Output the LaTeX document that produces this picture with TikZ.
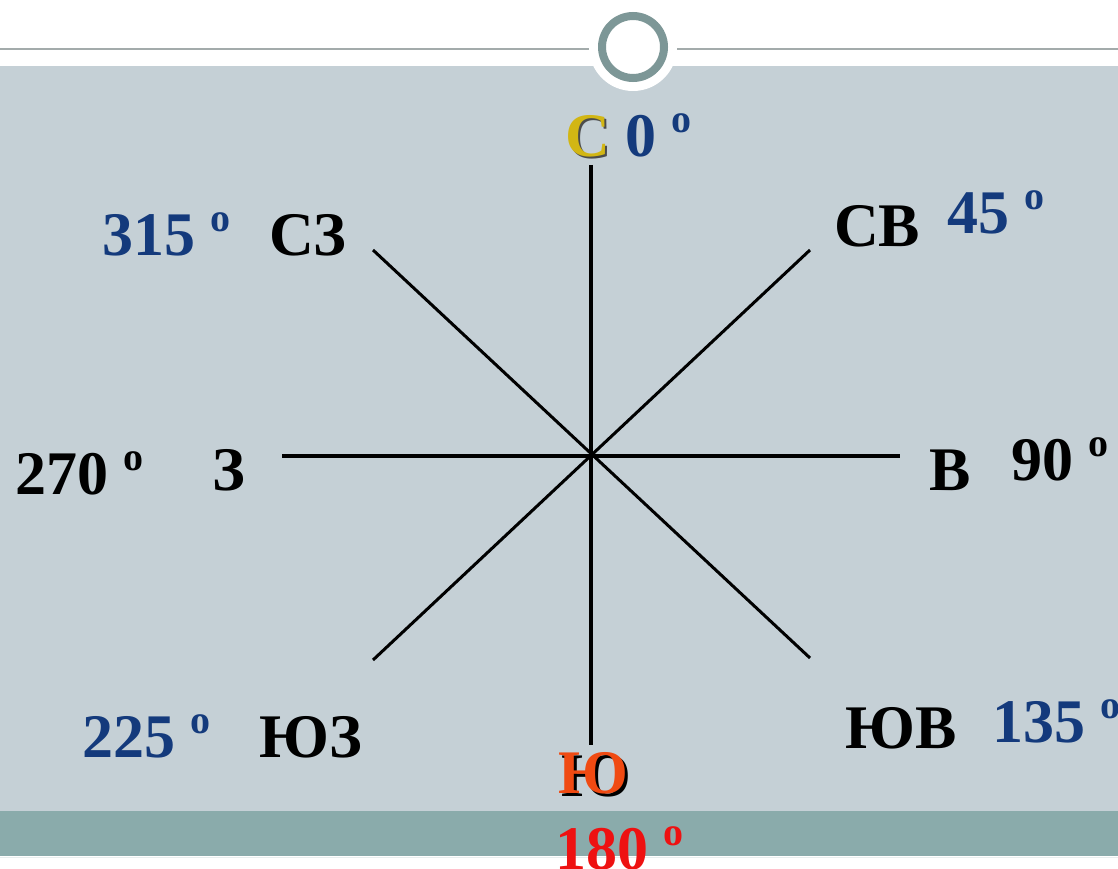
\documentclass[tikz,border=0pt]{standalone}
\usepackage{fontspec}
\setmainfont{Liberation Serif}
\definecolor{panel}{HTML}{C5D0D6}
\definecolor{band}{HTML}{8AABAB}
\definecolor{topline}{HTML}{A3ABAB}
\definecolor{ring}{HTML}{7D9797}
\definecolor{navy}{HTML}{143A7C}
\definecolor{gold}{HTML}{D2B614}
\definecolor{orangered}{HTML}{F04A12}
\definecolor{brightred}{HTML}{EE1111}
\newcommand\dg{\raisebox{24pt}{\fontsize{40}{40}\selectfont o}}
\begin{document}
\begin{tikzpicture}[x=1pt,y=-1pt,
  lbl/.style={inner sep=0pt,anchor=base west,font=\fontsize{62}{62}\selectfont\bfseries},
  axis/.style={line width=4pt,black}]
\useasboundingbox (0,0) rectangle (1118,869);
\fill[white] (0,0) rectangle (1118,869);
\fill[panel] (0,66) rectangle (1118,811);
\fill[band] (0,811) rectangle (1118,856);
\draw[line width=1pt,white!80!band] (0,857.5) -- (1118,857.5);
\draw[line width=2pt,topline] (0,49) -- (1118,49);
\fill[white] (633,47) circle (44pt);
\draw[ring,line width=8pt] (633,47) circle (31pt);
% compass
\coordinate (O) at (591,456);
\coordinate (N) at (591,165);
\coordinate (S) at (591,745);
\coordinate (W) at (282,456);
\coordinate (E) at (900,456);
\coordinate (NW) at (373,250);
\coordinate (SE) at (810,658);
\coordinate (NE) at (810,250);
\coordinate (SW) at (373,660);
\draw[axis] (N) -- (S);
\draw[axis] (W) -- (E);
\draw[axis,line width=3pt] (NW) -- (SE);
\draw[axis,line width=3pt] (NE) -- (SW);
% labels
\node[lbl,text=black!70] (Cs) at (567,159) {С};
\node[lbl,text=gold] (C) at (565,157) {С};
\node[lbl,text=navy] (C0) at (625,157) {0 \dg};
\node[lbl,text=navy] (d315) at (102,255) {315 \dg};
\node[lbl] (SZ) at (269,255) {СЗ};
\node[lbl] (SV) at (834,246) {СВ};
\node[lbl,text=navy] (d45) at (947,233) {45 \dg};
\node[lbl] (d270) at (15,494) {270 \dg};
\node[lbl] (Z) at (212,490) {З};
\node[lbl] (V) at (929,490) {В};
\node[lbl] (d90) at (1011,480) {90 \dg};
\node[lbl,text=navy] (d225) at (82,757) {225 \dg};
\node[lbl] (YuZ) at (259,757) {ЮЗ};
\node[lbl] (YuV) at (845,748) {ЮВ};
\node[lbl,text=navy] (d135) at (992,742) {135 \dg};
\node[lbl,text=black] (Yus) at (561,796) {Ю};
\node[lbl,text=orangered] (Yu) at (558,793) {Ю};
\node[lbl,text=brightred] (d180) at (555,869) {180 \dg};
\end{tikzpicture}
\end{document}
